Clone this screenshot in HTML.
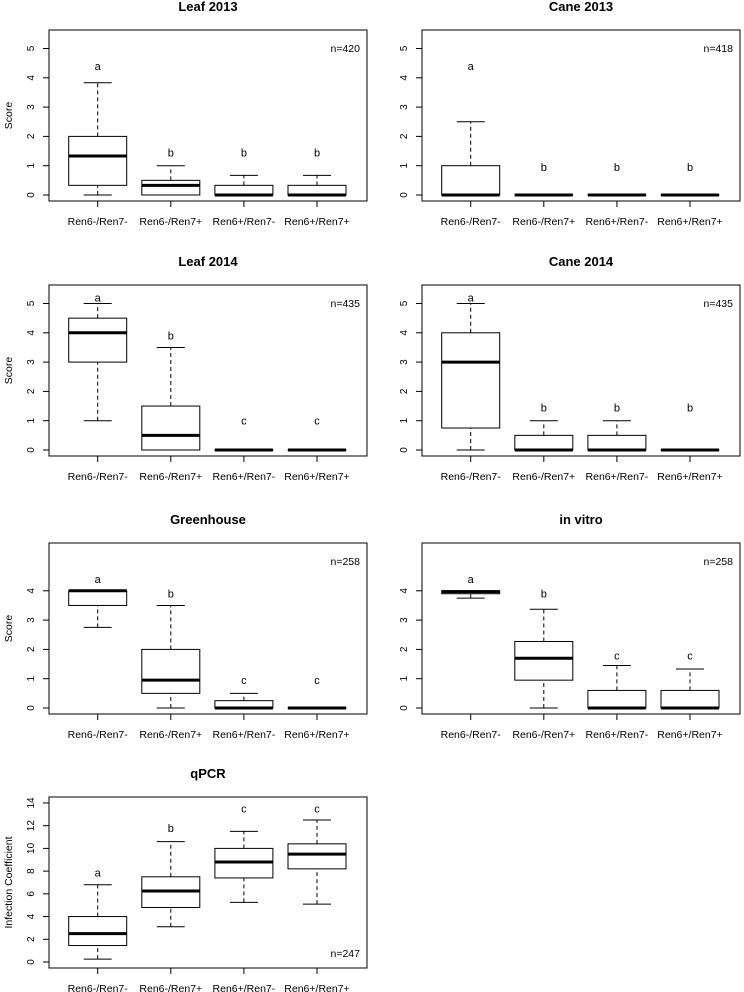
<!DOCTYPE html>
<html><head><meta charset="utf-8"><style>
body{margin:0;background:#fff}
svg{display:block;font-family:"Liberation Sans",Arial,sans-serif}
</style></head><body>
<svg id="c" width="744" height="992"></svg>
<script>
const categories=["Ren6-/Ren7-","Ren6-/Ren7+","Ren6+/Ren7-","Ren6+/Ren7+"];
const titles=["Leaf 2013","Cane 2013","Leaf 2014","Cane 2014","Greenhouse","in vitro","qPCR"];
const nLabels=["n=420","n=418","n=435","n=435","n=258","n=258","n=247"];
const yTicks=[[0,1,2,3,4,5],[0,1,2,3,4,5],[0,1,2,3,4,5],[0,1,2,3,4,5],[0,1,2,3,4],[0,1,2,3,4],[0,2,4,6,8,10,12,14]];
// each box: [whiskerLow, q1, median, q3, whiskerHigh]
const leaf2013=[[0,0.33,1.33,2,3.83],[0,0,0.33,0.5,1],[0,0,0,0.33,0.67],[0,0,0,0.33,0.67]];
const cane2013=[[0,0,0,1,2.5],[0,0,0,0,0],[0,0,0,0,0],[0,0,0,0,0]];
const leaf2014=[[1,3,4,4.5,5],[0,0,0.5,1.5,3.5],[0,0,0,0,0],[0,0,0,0,0]];
const cane2014=[[0,0.75,3,4,5],[0,0,0,0.5,1],[0,0,0,0.5,1],[0,0,0,0,0]];
const greenhouse=[[2.75,3.5,4,4,4],[0,0.5,0.95,2,3.5],[0,0,0,0.25,0.5],[0,0,0,0,0]];
const invitro=[[3.75,3.9,3.97,4,4],[0,0.95,1.7,2.27,3.37],[0,0,0,0.6,1.45],[0,0,0,0.6,1.33]];
const qpcr=[[0.25,1.45,2.5,4.0,6.8],[3.1,4.8,6.25,7.5,10.6],[5.25,7.4,8.8,10,11.5],[5.1,8.2,9.5,10.4,12.5]];
const letters=[["a","b","b","b"],["a","b","b","b"],["a","b","c","c"],["a","b","b","b"],["a","b","c","c"],["a","b","c","c"],["a","b","c","c"]];
const letterY=[[4.4,1.45,1.45,1.45],[4.4,0.95,0.95,0.95],[5.2,3.9,1,1],[5.2,1.45,1.45,1.45],[4.4,3.9,0.95,0.95],[4.4,3.9,1.8,1.8],[7.9,11.8,13.5,13.5]];
const panelData=[leaf2013,cane2013,leaf2014,cane2014,greenhouse,invitro,qpcr];
const yLabels=["Score","","Score","","Score","","Infection Coefficient"];

const svg=document.getElementById('c');
const NS="http://www.w3.org/2000/svg";
function mk(tag,attrs,parent){const e=document.createElementNS(NS,tag);for(const k in attrs)e.setAttribute(k,attrs[k]);(parent||svg).appendChild(e);return e;}
const rowTops=[30,285,543,797];
panelData.forEach((data,p)=>{
  const col=p%2,row=Math.floor(p/2);
  const ox=col*373, top=rowTops[row], bot=top+171;
  const isQ=p===6;
  const y0=bot-6, scale=isQ?11.36:29.3;
  const Y=v=>y0-v*scale;
  const X=i=>ox+97.7+i*73.1;
  const g=mk('g',{});
  
  
  const t=mk('text',{x:ox+208,y:top-19,'text-anchor':'middle','font-size':13,'font-weight':'bold'},g);t.textContent=titles[p];
  
  const fr=mk('rect',{x:ox+49,y:top,width:318,height:171,fill:'none',stroke:'#000','stroke-width':1},g);
  
  yTicks[p].forEach(v=>{
    mk('line',{x1:ox+43,x2:ox+49,y1:Y(v),y2:Y(v),stroke:'#000'},g);
    const tl=mk('text',{x:ox+34,y:Y(v),'text-anchor':'middle','font-size':10,transform:`rotate(-90 ${ox+34} ${Y(v)})`},g);tl.textContent=v;
    
  });
  if(yLabels[p]){const yl=mk('text',{x:ox+12,y:(top+bot)/2,'text-anchor':'middle','font-size':10.5,transform:`rotate(-90 ${ox+12} ${(top+bot)/2})`},g);yl.textContent=yLabels[p];
    }
  const nl=mk('text',{x:ox+360,y:isQ?bot-11:top+22,'text-anchor':'end','font-size':10.5},g);nl.textContent=nLabels[p];
  
  data.forEach((d,i)=>{
    const x=X(i),hw=29,cw=14;
    mk('line',{x1:x,x2:x,y1:bot,y2:bot+6,stroke:'#000'},g);
    const cl=mk('text',{x:x,y:bot+24,'text-anchor':'middle','font-size':10.5},g);cl.textContent=categories[i];
    
    const bg=mk('g',{},g);
    
    mk('line',{x1:x,x2:x,y1:Y(d[0]),y2:Y(d[1]),stroke:'#000','stroke-dasharray':'4,3'},bg);
    mk('line',{x1:x,x2:x,y1:Y(d[3]),y2:Y(d[4]),stroke:'#000','stroke-dasharray':'4,3'},bg);
    mk('line',{x1:x-cw,x2:x+cw,y1:Y(d[0]),y2:Y(d[0]),stroke:'#000'},bg);
    mk('line',{x1:x-cw,x2:x+cw,y1:Y(d[4]),y2:Y(d[4]),stroke:'#000'},bg);
    mk('rect',{x:x-hw,y:Y(d[3]),width:2*hw,height:Math.max(0.01,Y(d[1])-Y(d[3])),fill:'#fff',stroke:'#000'},bg);
    mk('line',{x1:x-hw,x2:x+hw,y1:Y(d[2]),y2:Y(d[2]),stroke:'#000','stroke-width':3},bg);
    const lt=mk('text',{x:x,y:Y(letterY[p][i])+4,'text-anchor':'middle','font-size':11},g);lt.textContent=letters[p][i];
    
  });
});
</script>
</body></html>
